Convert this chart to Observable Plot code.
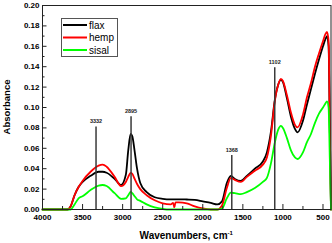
<!DOCTYPE html>
<html>
<head>
<meta charset="utf-8">
<script src="https://cdn.jsdelivr.net/npm/d3@7"></script>
<script src="https://cdn.jsdelivr.net/npm/@observablehq/plot@0.6"></script>
<style>
  body { margin: 0; background: #fff; }
  svg { display: block; }
</style>
</head>
<body>
<div id="chart"></div>
<script>
// FTIR spectra of three natural fibres
const wavenumber = [4000, 3750, 3690, 3650, 3600, 3550, 3500, 3400, 3300, 3250, 3200, 3100, 3020, 2960, 2930, 2900, 2880, 2850, 2820, 2780, 2700, 2600, 2500, 2400, 2370, 2355, 2340, 2300, 2200, 2100, 2000, 1900, 1820, 1760, 1700, 1650, 1600, 1525, 1450, 1350, 1250, 1200, 1150, 1100, 1060, 1025, 1000, 950, 900, 850, 817, 750, 700, 650, 600, 550, 500, 470, 450, 430, 415, 400];
const flax = [0, 0, 0, 0.003, 0.014, 0.022, 0.027, 0.033, 0.037, 0.037, 0.036, 0.030, 0.024, 0.034, 0.058, 0.074, 0.072, 0.057, 0.040, 0.026, 0.017, 0.012, 0.0105, 0.010, 0.010, 0.010, 0.010, 0.010, 0.0098, 0.0095, 0.008, 0.0065, 0.005, 0.008, 0.026, 0.033, 0.030, 0.028, 0.033, 0.040, 0.047, 0.056, 0.076, 0.108, 0.122, 0.127, 0.125, 0.109, 0.091, 0.079, 0.0756, 0.087, 0.103, 0.118, 0.133, 0.147, 0.160, 0.167, 0.170, 0.160, 0.080, 0];
const hemp = [0, 0, 0, 0.003, 0.014, 0.022, 0.028, 0.037, 0.043, 0.044, 0.042, 0.032, 0.023, 0.027, 0.032, 0.036, 0.035, 0.030, 0.025, 0.020, 0.014, 0.009, 0.006, 0.005, 0.0065, 0.002, 0.007, 0.007, 0.006, 0.003, 0.001, 0, 0, 0.004, 0.021, 0.031, 0.029, 0.027, 0.032, 0.038, 0.044, 0.051, 0.072, 0.107, 0.122, 0.128, 0.126, 0.112, 0.095, 0.083, 0.0805, 0.093, 0.110, 0.124, 0.140, 0.153, 0.165, 0.172, 0.174, 0.165, 0.080, 0];
const sisal = [0, 0, 0, 0, 0.005, 0.011, 0.013, 0.019, 0.0235, 0.024, 0.023, 0.016, 0.0105, 0.011, 0.014, 0.0172, 0.016, 0.013, 0.010, 0.0085, 0.005, 0.002, 0.0005, 0, 0, 0, 0, 0, 0, 0, 0, 0, 0, 0.001, 0.011, 0.0165, 0.016, 0.015, 0.017, 0.021, 0.027, 0.031, 0.045, 0.066, 0.078, 0.082, 0.080, 0.070, 0.058, 0.051, 0.0495, 0.056, 0.066, 0.074, 0.085, 0.094, 0.100, 0.104, 0.106, 0.100, 0.050, 0];

const seriesNames = ["flax", "hemp", "sisal"];
const seriesColors = ["#000000", "#ff0000", "#00ff00"];

// marked absorption bands: where the line stands, its printed label, and how high it reaches
const bandPositions = [3332, 2895, 1638, 1102];
const bandLabels = ["3332", "2895", "1368", "1102"];
const bandHeights = [0.081, 0.091, 0.053, 0.139];

const xTicks = [4000, 3500, 3000, 2500, 2000, 1500, 1000, 500];
const xMinorTicks = [3750, 3250, 2750, 2250, 1750, 1250, 750];
const yTicks = [0, 0.02, 0.04, 0.06, 0.08, 0.10, 0.12, 0.14, 0.16, 0.18, 0.20];
const yMinorTicks = [0.01, 0.03, 0.05, 0.07, 0.09, 0.11, 0.13, 0.15, 0.17, 0.19];

const rows = [];
[flax, hemp, sisal].forEach((values, i) => {
  values.forEach((v, j) => rows.push({series: seriesNames[i], wn: wavenumber[j], absorbance: v}));
});
const bands = bandPositions.map((wn, i) => ({wn, label: bandLabels[i], top: bandHeights[i]}));

const W = 332, H = 243;
const margin = {top: 5, right: 1.5, bottom: 34, left: 42};
const plotW = W - margin.left - margin.right;
const plotH = H - margin.top - margin.bottom;
const font = "Liberation Sans, Arial, Helvetica, sans-serif";
const axisColor = "#222";

const chart = Plot.plot({
  width: W,
  height: H,
  marginTop: margin.top,
  marginRight: margin.right,
  marginBottom: margin.bottom,
  marginLeft: margin.left,
  style: {fontFamily: font, background: "#fff", color: "#000", overflow: "visible"},
  x: {domain: [4000, 400]},
  y: {domain: [0, 0.2]},
  color: {domain: seriesNames, range: seriesColors},
  marks: [
    Plot.line(rows, {x: "wn", y: "absorbance", z: "series", stroke: "series", strokeWidth: 1.8, curve: "monotone-x"}),
    Plot.ruleX(bands, {x: "wn", y1: 0, y2: "top", stroke: "#3a3a3a", strokeWidth: 1.5}),
    Plot.text(bands, {x: "wn", y: "top", text: "label", dy: -5.5, fontSize: 5.5, fontWeight: "bold", fill: "#222"}),
    Plot.frame({stroke: axisColor, strokeWidth: 1}),
    // inward ticks
    Plot.tickX(xTicks, {x: d => d, insetTop: plotH - 5, stroke: axisColor, strokeWidth: 1}),
    Plot.tickX(xMinorTicks, {x: d => d, insetTop: plotH - 3, stroke: axisColor, strokeWidth: 1}),
    Plot.tickY(yTicks, {y: d => d, insetRight: plotW - 4.5, stroke: axisColor, strokeWidth: 1}),
    Plot.tickY(yMinorTicks, {y: d => d, insetRight: plotW - 2.5, stroke: axisColor, strokeWidth: 1}),
    Plot.axisX(xTicks, {tickSize: 0, tickPadding: 5, tickFormat: d => String(d), fontSize: 8, fontWeight: "bold", label: null}),
    Plot.axisY(yTicks, {tickSize: 0, tickPadding: 3, tickFormat: d => d.toFixed(2), fontSize: 8, fontWeight: "bold", label: null})
  ]
});

const svg = d3.select(chart);

// axis titles
svg.append("text")
  .attr("transform", `translate(9.5,${margin.top + plotH / 2}) rotate(-90)`)
  .attr("text-anchor", "middle")
  .attr("font-family", font).attr("font-size", 9.5).attr("font-weight", "bold")
  .attr("fill", "#000")
  .text("Absorbance");

const xt = svg.append("text")
  .attr("x", margin.left + plotW / 2).attr("y", 239)
  .attr("text-anchor", "middle")
  .attr("font-family", font).attr("font-size", 10).attr("font-weight", "bold")
  .attr("fill", "#000");
xt.append("tspan").text("Wavenumbers, cm");
xt.append("tspan").attr("dy", -4).attr("font-size", 6).text("-1");

// legend box
const lg = svg.append("g");
lg.append("rect")
  .attr("x", 61.5).attr("y", 18.5).attr("width", 56).attr("height", 38)
  .attr("fill", "#fff").attr("stroke", "#555").attr("stroke-width", 1);
seriesNames.forEach((name, i) => {
  const y = 25 + i * 12.5;
  lg.append("line")
    .attr("x1", 63).attr("x2", 87).attr("y1", y).attr("y2", y)
    .attr("stroke", seriesColors[i]).attr("stroke-width", 2);
  lg.append("text")
    .attr("x", 89).attr("y", y).attr("dy", "0.35em")
    .attr("text-anchor", "start")
    .attr("font-family", font).attr("font-size", 10).attr("fill", "#000")
    .text(name);
});

document.getElementById("chart").appendChild(chart);
</script>
</body>
</html>
